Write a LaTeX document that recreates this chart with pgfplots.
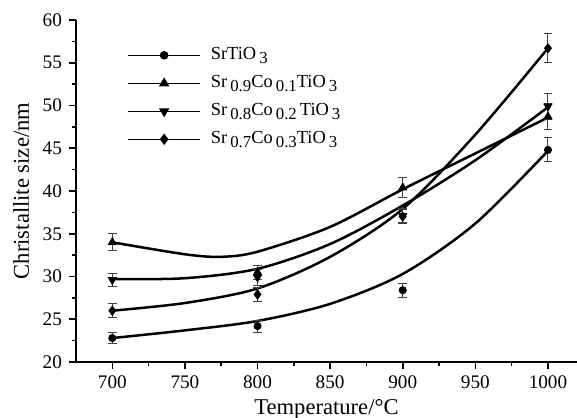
\documentclass[border=0pt]{standalone}
\usepackage{fontspec}
\setmainfont{Liberation Serif}
\usepackage{pgfplots}
\pgfplotsset{compat=1.18}
\newcommand{\sub}[1]{\,\raisebox{-0.45ex}{\fontsize{8.4}{9}\selectfont #1}}
\pgfplotsset{
  legend image code/.code={\draw[#1,mark repeat=2,mark phase=2] plot coordinates {(0pt,0pt) (18pt,0pt) (36pt,0pt)};},
  fit/.style={no marks, line width=1.25pt, smooth, tension=0.5, forget plot},
  pts/.style={only marks, black, forget plot,
    error bars/y dir=both, error bars/y explicit,
    error bars/error bar style={line width=0.5pt, black!75},
    error bars/error mark options={rotate=90, mark size=2.2pt, line width=0.5pt, black!75}},
}
\begin{document}
\begin{tikzpicture}
\begin{axis}[
  scale only axis, width=250.5pt, height=171pt,
  xmin=675, xmax=1020, ymin=20, ymax=60,
  axis lines=left, axis line style={-, line width=0.9pt},
  xtick={700,750,...,1000}, ytick={20,25,...,60},
  minor x tick num=1, minor y tick num=1,
  tick align=outside, major tick length=3.5pt, minor tick length=2pt,
  tick style={line width=0.8pt, black},
  /pgf/number format/assume math mode=true,
  /pgf/number format/1000 sep={},
  ticklabel style={font=\fontsize{9.6}{11}\selectfont},
  xlabel={Temperature/°C}, ylabel={Christallite size/nm},
  label style={font=\fontsize{11.3}{13}\selectfont},
  xlabel style={yshift=1.8pt},
  legend style={draw=none, fill=none, at={(0.09,0.945)}, anchor=north west,
    font=\fontsize{9.2}{10}\selectfont, row sep=1.9pt,
    nodes={inner ysep=1.5pt, text height=6.5pt, text depth=2.6pt}},
  legend cell align=left,
]
% fitted curves
\addplot[fit] coordinates {(700,22.8) (750,23.7) (800,24.8) (850,26.8) (900,30.3) (950,36.2) (1000,44.7)};
\addplot[fit] coordinates {(700,34.0) (750,32.6) (775,32.3) (800,32.9) (850,35.8) (900,40.2) (950,44.4) (1000,48.6)};
\addplot[fit] coordinates {(700,29.7) (750,29.8) (800,30.9) (850,33.8) (900,38.3) (950,43.6) (1000,49.8)};
\addplot[fit] coordinates {(700,26.0) (750,26.9) (800,28.6) (850,32.3) (900,37.9) (950,46.6) (1000,56.7)};
% measured points
\addplot[pts, mark=*, mark size=1.8pt] coordinates {(700,22.8) +- (0,0.6) (800,24.2) +- (0,0.7) (900,28.4) +- (0,0.8) (1000,44.8) +- (0,1.4)};
\addplot[pts, mark=triangle*, mark size=2.3pt] coordinates {(700,34.0) +- (0,1.0) (800,30.5) +- (0,0.8) (900,40.4) +- (0,1.2) (1000,48.7) +- (0,1.5)};
\addplot[pts, mark=triangle*, mark size=2.3pt, mark options={rotate=180}] coordinates {(700,29.6) +- (0,0.8) (800,29.9) +- (0,0.9) (900,37.1) +- (0,0.8) (1000,49.9) +- (0,1.5)};
\addplot[pts, mark=diamond*, mark size=2.3pt] coordinates {(700,26.0) +- (0,0.8) (800,27.9) +- (0,0.8) (900,37.0) +- (0,0.8) (1000,56.7) +- (0,1.7)};
% legend
\addlegendimage{black, line width=0.7pt, mark=*, mark size=1.8pt}
\addlegendentry{\hspace{3pt}SrTiO\sub{3}}
\addlegendimage{black, line width=0.7pt, mark=triangle*, mark size=2.3pt}
\addlegendentry{\hspace{3pt}Sr\sub{0.9}Co\sub{0.1}TiO\sub{3}}
\addlegendimage{black, line width=0.7pt, mark=triangle*, mark size=2.3pt, mark options={rotate=180}}
\addlegendentry{\hspace{3pt}Sr\sub{0.8}Co\sub{0.2}\,TiO\sub{3}}
\addlegendimage{black, line width=0.7pt, mark=diamond*, mark size=2.3pt}
\addlegendentry{\hspace{3pt}Sr\sub{0.7}Co\sub{0.3}TiO\sub{3}}
\end{axis}
\pgfresetboundingbox
\path (current axis.south west) ++(-38pt,-27.5pt) rectangle ++(288.5pt,208.5pt);
\end{tikzpicture}
\end{document}
